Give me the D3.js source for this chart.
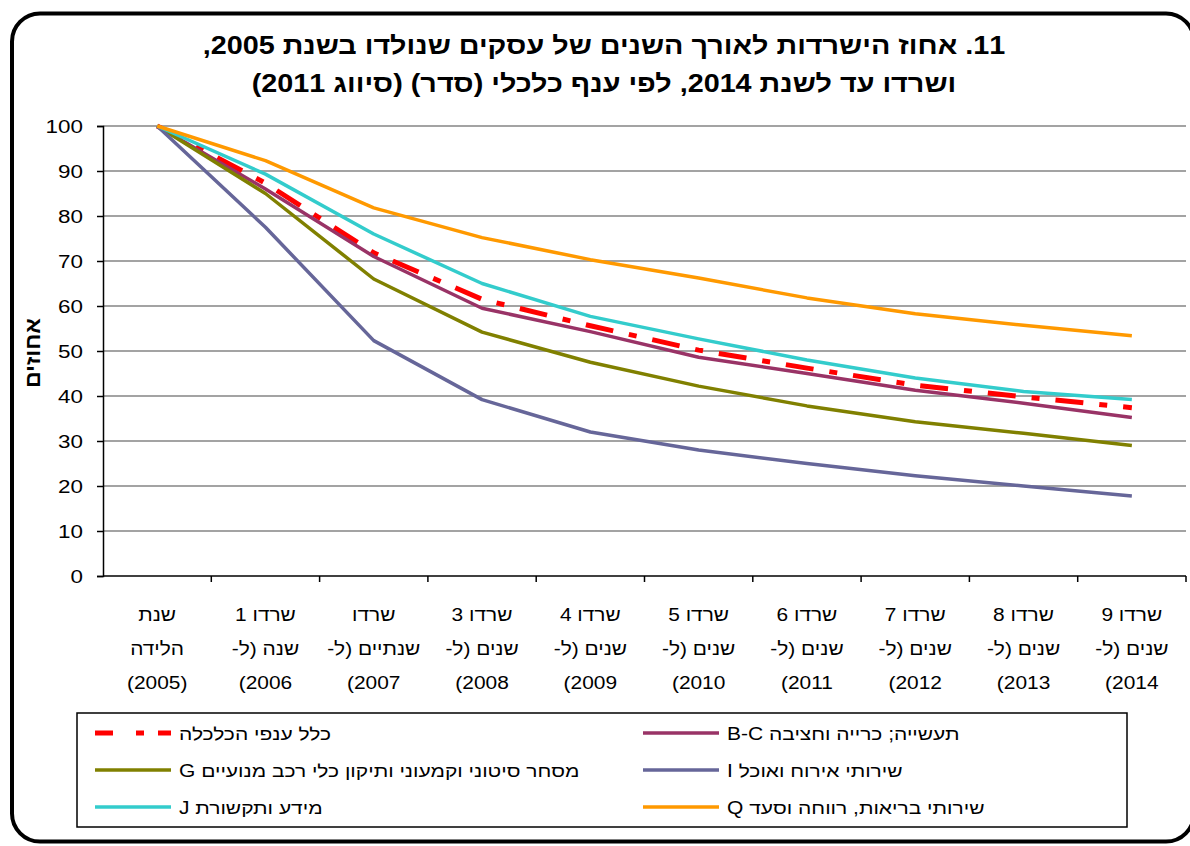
<!DOCTYPE html>
<html>
<head>
<meta charset="utf-8">
<script src="https://cdn.jsdelivr.net/npm/d3@7"></script>
<style>
  body { margin: 0; background: #fff; }
  svg { display: block; font-family: Arial, "Liberation Sans", sans-serif; }
</style>
</head>
<body>
<svg id="chart" width="1190" height="846"></svg>
<script>
// x categories, each label split into its wrapped lines
const categories = ["2005", "2006", "2007", "2008", "2009", "2010", "2011", "2012", "2013", "2014"];
const catLines = [
    ["שנת", "הלידה", "(2005)"],
    ["שרדו 1", "שנה (ל-", "2006)"],
    ["שרדו", "שנתיים (ל-", "2007)"],
    ["שרדו 3", "שנים (ל-", "2008)"],
    ["שרדו 4", "שנים (ל-", "2009)"],
    ["שרדו 5", "שנים (ל-", "2010)"],
    ["שרדו 6", "שנים (ל-", "2011)"],
    ["שרדו 7", "שנים (ל-", "2012)"],
    ["שרדו 8", "שנים (ל-", "2013)"],
    ["שרדו 9", "שנים (ל-", "2014)"]
];
const yTicks = [0, 10, 20, 30, 40, 50, 60, 70, 80, 90, 100];

// survival % per branch
const totalEconomy = [100, 87.3, 71.8, 61.5, 55.6, 50.2, 46.2, 42.4, 39.8, 37.4];
const manufacturing = [100, 86, 71, 59.5, 54.3, 48.6, 45, 41.3, 38.4, 35.2];
const trade = [100, 85, 66, 54.2, 47.5, 42.2, 37.8, 34.3, 31.7, 29];
const accommodation = [100, 77.5, 52.3, 39.2, 32, 28, 25, 22.3, 20, 17.8];
const information = [100, 89.3, 76, 65, 57.7, 52.7, 48, 44, 41, 39.2];
const health = [100, 92.3, 81.8, 75.2, 70.3, 66.2, 61.8, 58.3, 55.7, 53.4];

const seriesNames = [
    "כלל ענפי הכלכלה",
    "תעשייה; כרייה וחציבה B-C",
    "מסחר סיטוני וקמעוני ותיקון כלי רכב מנועיים G",
    "שירותי אירוח ואוכל I",
    "מידע ותקשורת J",
    "שירותי בריאות, רווחה וסעד Q"
];
const seriesValues = [totalEconomy, manufacturing, trade, accommodation, information, health];
const colors = ["#ff0000", "#993366", "#808000", "#666699", "#33cccc", "#ff9900"];

const svg = d3.select("#chart");
const margin = {top: 126, left: 103, right: 4, bottom: 270};
const width = 1190 - margin.left - margin.right;
const height = 846 - margin.top - margin.bottom;

// text in the original looks a bit stretched sideways
const stretched = function(sel, x, y, sx) {
    return sel.attr("x", 0).attr("y", 0)
        .attr("transform", "translate(" + x + "," + y + ") scale(" + sx + ",1)");
}

// outer rounded frame
svg.append("rect")
    .attr("x", 12).attr("y", 13.5)
    .attr("width", 1182).attr("height", 828)
    .attr("rx", 28).attr("ry", 28)
    .attr("fill", "#fff").attr("stroke", "#000").attr("stroke-width", 4);

// title
const title = ["11. אחוז הישרדות לאורך השנים של עסקים שנולדו בשנת 2005,",
               "ושרדו עד לשנת 2014, לפי ענף כלכלי (סדר) (סיווג 2011)"];
title.forEach((t, i) => {
    stretched(svg.append("text"), 604, 54 + i * 38, 1.15)
        .attr("direction", "rtl")
        .attr("text-anchor", "middle")
        .attr("font-size", 25).attr("font-weight", "bold")
        .text(t);
});

const g = svg.append("g").attr("transform", "translate(" + margin.left + "," + margin.top + ")");

const x = d3.scaleBand().domain(categories).range([0, width]);
const y = d3.scaleLinear().domain([0, 100]).range([height, 0]);

// gridlines
g.selectAll(".grid").data(yTicks.filter(t => t > 0)).enter().append("line")
    .attr("x1", 0).attr("x2", width)
    .attr("y1", d => y(d)).attr("y2", d => y(d))
    .attr("stroke", "#858585").attr("stroke-width", 1.5);

// y axis
const yAxis = g.append("g").call(d3.axisLeft(y).tickValues(yTicks).tickSize(6));
yAxis.select(".domain").attr("stroke", "#000").attr("stroke-width", 1.5);
yAxis.selectAll(".tick line").attr("stroke", "#000").attr("stroke-width", 1.5);
yAxis.selectAll(".tick text")
    .attr("x", 0)
    .attr("font-size", 19).attr("fill", "#000")
    .attr("font-family", "Arial, 'Liberation Sans', sans-serif")
    .attr("transform", "translate(-20,0) scale(1.18,1)");

// x axis: line + ticks at band edges
g.append("line").attr("x1", 0).attr("x2", width).attr("y1", height).attr("y2", height)
    .attr("stroke", "#000").attr("stroke-width", 1.5);
g.selectAll(".xtick").data(categories).enter().append("line")
    .attr("x1", d => x(d) + x.bandwidth()).attr("x2", d => x(d) + x.bandwidth())
    .attr("y1", height).attr("y2", height + 6)
    .attr("stroke", "#000").attr("stroke-width", 1.5);

// x labels
categories.forEach((c, i) => {
    catLines[i].forEach((line, j) => {
        stretched(g.append("text"), x(c) + x.bandwidth() / 2, height + 45 + j * 34, 1.1)
            .attr("direction", "rtl")
            .attr("text-anchor", "middle")
            .attr("font-size", 19)
            .text(line);
    });
});

// y axis title
svg.append("text")
    .attr("transform", "translate(40,353) rotate(-90)")
    .attr("text-anchor", "middle")
    .attr("font-size", 21).attr("font-weight", "bold")
    .attr("textLength", 70).attr("lengthAdjust", "spacingAndGlyphs")
    .text("אחוזים");

// series lines
const line = d3.line()
    .x((d, i) => x(categories[i]) + x.bandwidth() / 2)
    .y(d => y(d));

seriesValues.forEach((vals, k) => {
    g.append("path")
        .datum(vals)
        .attr("d", line)
        .attr("fill", "none")
        .attr("stroke", colors[k])
        .attr("stroke-width", k === 0 ? 5 : 3.5)
        .attr("stroke-linejoin", "round")
        .attr("stroke-dasharray", k === 0 ? "28,16,8,16" : null);
});

// legend
svg.append("rect")
    .attr("x", 77).attr("y", 713).attr("width", 1050).attr("height", 114)
    .attr("fill", "#fff").attr("stroke", "#000").attr("stroke-width", 1.5);

const legendPos = [
    {x: 95, y: 733}, {x: 643, y: 733},
    {x: 95, y: 770}, {x: 643, y: 770},
    {x: 95, y: 807}, {x: 643, y: 807}
];
seriesNames.forEach((name, k) => {
    const p = legendPos[k];
    svg.append("line")
        .attr("x1", p.x).attr("x2", p.x + 76)
        .attr("y1", p.y).attr("y2", p.y)
        .attr("stroke", colors[k])
        .attr("stroke-width", k === 0 ? 5 : 3.5)
        .attr("stroke-dasharray", k === 0 ? "18,23,8,14" : null);
    stretched(svg.append("text"), p.x + 84, p.y + 7, 1.2)
        .attr("direction", "rtl")
        .attr("text-anchor", "end")
        .attr("font-size", 17.5)
        .text(name);
});
</script>
</body>
</html>
